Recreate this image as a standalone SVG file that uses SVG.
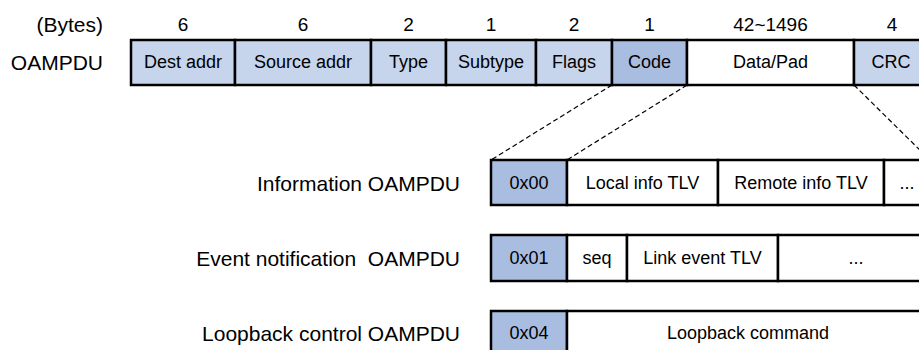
<svg xmlns="http://www.w3.org/2000/svg" width="919" height="350" viewBox="0 0 919 350">
  <style>
    text { font-family: "Liberation Sans", Arial, sans-serif; fill: #000; dominant-baseline: central; }
    .lbl { font-size: 21px; text-anchor: end; }
    .num { font-size: 19px; text-anchor: middle; }
    .cell { font-size: 18px; text-anchor: middle; }
    .box { stroke: #000; stroke-width: 2.5; }
    .lt { fill: #c6d4ec; }
    .dk { fill: #a9bde1; }
    .wh { fill: #ffffff; }
    .dash { stroke: #000; stroke-width: 1.2; stroke-dasharray: 5 3; fill: none; }
  </style>
  <rect width="919" height="350" fill="#ffffff"/>

  <!-- connectors: expansion of the Code / Data fields -->
  <g id="connectors">
    <line class="dash" x1="612" y1="85" x2="491" y2="160"/>
    <line class="dash" x1="687" y1="85" x2="567" y2="160"/>
    <line class="dash" x1="854" y1="85" x2="930" y2="160"/>
  </g>

  <!-- OAMPDU frame -->
  <g id="frame">
    <text class="lbl" x="103" y="24">(Bytes)</text>
    <text class="lbl" x="103" y="62">OAMPDU</text>
    <text class="num" x="183" y="24">6</text>
    <text class="num" x="303" y="24">6</text>
    <text class="num" x="408.5" y="24">2</text>
    <text class="num" x="491" y="24">1</text>
    <text class="num" x="574" y="24">2</text>
    <text class="num" x="649.5" y="24">1</text>
    <text class="num" x="770.5" y="24">42~1496</text>
    <text class="num" x="892" y="24">4</text>

    <rect class="box lt" x="131" y="40" width="104" height="45"/>
    <rect class="box lt" x="235" y="40" width="136" height="45"/>
    <rect class="box lt" x="371" y="40" width="75" height="45"/>
    <rect class="box lt" x="446" y="40" width="90" height="45"/>
    <rect class="box lt" x="536" y="40" width="76" height="45"/>
    <rect class="box dk" x="612" y="40" width="75" height="45"/>
    <rect class="box wh" x="687" y="40" width="167" height="45"/>
    <rect class="box lt" x="854" y="40" width="80" height="45"/>

    <text class="cell" x="183" y="62">Dest addr</text>
    <text class="cell" x="303" y="62">Source addr</text>
    <text class="cell" x="408.5" y="62">Type</text>
    <text class="cell" x="491" y="62">Subtype</text>
    <text class="cell" x="574" y="62">Flags</text>
    <text class="cell" x="649.5" y="62">Code</text>
    <text class="cell" x="770.5" y="62">Data/Pad</text>
    <text class="cell" x="891" y="62">CRC</text>
  </g>

  <!-- Information OAMPDU -->
  <g id="information">
    <text class="lbl" x="460" y="183">Information OAMPDU</text>
    <rect class="box dk" x="491" y="160" width="76" height="45"/>
    <rect class="box wh" x="567" y="160" width="151" height="45"/>
    <rect class="box wh" x="718" y="160" width="166" height="45"/>
    <rect class="box wh" x="884" y="160" width="50" height="45"/>
    <text class="cell" x="529" y="183">0x00</text>
    <text class="cell" x="642.5" y="183">Local info TLV</text>
    <text class="cell" x="801" y="183">Remote info TLV</text>
    <text class="cell" x="907" y="183">...</text>
  </g>

  <!-- Event notification OAMPDU -->
  <g id="event">
    <text class="lbl" x="460" y="258" xml:space="preserve">Event notification  OAMPDU</text>
    <rect class="box dk" x="491" y="235" width="76" height="46"/>
    <rect class="box wh" x="567" y="235" width="60" height="46"/>
    <rect class="box wh" x="627" y="235" width="151" height="46"/>
    <rect class="box wh" x="778" y="235" width="156" height="46"/>
    <text class="cell" x="529" y="258">0x01</text>
    <text class="cell" x="597" y="258">seq</text>
    <text class="cell" x="702.5" y="258">Link event TLV</text>
    <text class="cell" x="856" y="258">...</text>
  </g>

  <!-- Loopback control OAMPDU -->
  <g id="loopback">
    <text class="lbl" x="460" y="333">Loopback control OAMPDU</text>
    <rect class="box dk" x="491" y="311" width="76" height="46"/>
    <rect class="box wh" x="567" y="311" width="367" height="46"/>
    <text class="cell" x="529" y="333">0x04</text>
    <text class="cell" x="748" y="333">Loopback command</text>
  </g>
</svg>
